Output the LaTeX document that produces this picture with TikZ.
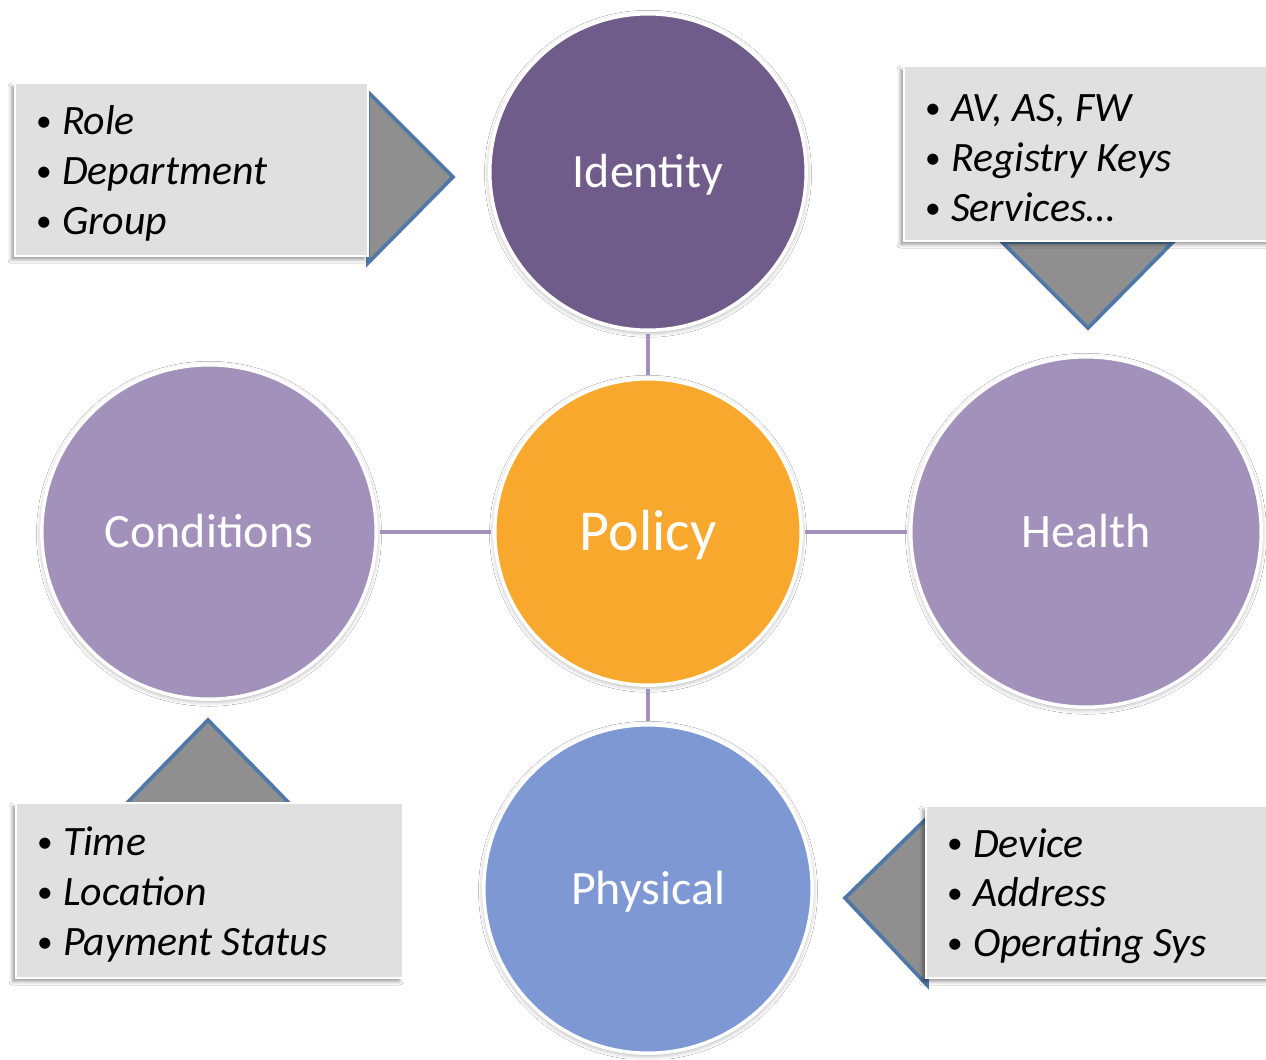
\documentclass[tikz,border=0pt]{standalone}
\usepackage{fontspec}
\setmainfont{Carlito}
\usepackage{graphicx}
\usetikzlibrary{positioning, shapes, shadows.blur}
\usepackage{xcolor}

\definecolor{idpurple}{HTML}{705C8A}
\definecolor{lilac}{HTML}{A291BA}
\definecolor{policyorange}{HTML}{F8A82D}
\definecolor{physblue}{HTML}{7E98D4}
\definecolor{boxgray}{HTML}{E0E0E0}
\definecolor{pointgray}{HTML}{8F8F8F}
\definecolor{pointblue}{HTML}{4F78A6}

\newcommand{\bul}{\makebox[0.52cm][l]{\raisebox{0.08em}{\scalebox{0.75}{\textbullet}}}}
\newcommand{\topstrut}{\rule{0pt}{21pt}}

\tikzset{
    bubble/.style={circle, draw=white, line width=2pt, text=white, inner sep=0pt,
        font=\fontsize{27.3}{32}\selectfont, text height=17.2pt, text depth=0pt,
        blur shadow={shadow xshift=0pt, shadow yshift=-1pt, shadow blur radius=3pt, shadow opacity=40}},
    itembox/.style={rectangle, fill=boxgray, draw=white, line width=1.2pt, anchor=north west,
        align=flush left, inner xsep=0.42cm, inner ysep=0pt,
        font=\fontsize{23.8}{28.4}\selectfont,
        blur shadow={shadow xshift=-2pt, shadow yshift=-2pt, shadow blur radius=2pt, shadow opacity=40}},
    pointer/.style={fill=pointgray, draw=pointblue, line width=2.1pt, line join=miter},
    link/.style={draw=lilac, line width=2.8pt, shorten <=1.2pt, shorten >=1.2pt}
}

\begin{document}
\begin{tikzpicture}[x=0.02cm, y=-0.02cm]
    \useasboundingbox[fill=white] (0,0) rectangle (1266,1059);

    % circles
    \node[bubble, fill=idpurple, minimum size=6.33cm] (identity) at (648,172) {Identity};
    \node[bubble, fill=policyorange, minimum size=6.13cm, font=\fontsize{33}{38}\selectfont, text height=20.8pt] (policy) at (648,532) {Policy};
    \node[bubble, fill=lilac, minimum size=6.69cm] (conditions) at (209,532) {Conditions};
    \node[bubble, fill=lilac, minimum size=7.01cm] (health) at (1086,532) {Health};
    \node[bubble, fill=physblue, minimum size=6.57cm] (physical) at (648,889) {Physical};

    \draw[link] (identity) -- (policy);
    \draw[link] (policy) -- (physical);
    \draw[link] (conditions) -- (policy);
    \draw[link] (policy) -- (health);

    % pointers
    \draw[pointer] (368,92) -- (453,177) -- (368,263) -- cycle;
    \draw[pointer] (1002,242) -- (1088,328) -- (1173,242) -- cycle;
    \draw[pointer] (126,804) -- (208,720) -- (290,804) -- cycle;
    \draw[pointer] (927,818) -- (845,898) -- (927,985) -- cycle;

    % lists
    \node[itembox, minimum width=7.06cm, minimum height=3.46cm, text width=6.22cm] (rolebox) at (14,82)
        {\topstrut\bul\textit{Role}\\ \bul\textit{Department}\\ \bul\textit{Group}};
    \node[itembox, minimum width=7.44cm, minimum height=3.5cm, text width=6.6cm] (healthbox) at (903,65)
        {\topstrut\bul\textit{AV, AS, FW}\\ \bul\textit{Registry Keys}\\ \bul\textit{Services…}};
    \node[itembox, minimum width=7.74cm, minimum height=3.5cm, text width=6.9cm] (condbox) at (15,802)
        {\topstrut\bul\textit{Time}\\ \bul\textit{Location}\\ \bul\textit{Payment Status}};
    \node[itembox, minimum width=7.0cm, minimum height=3.44cm, text width=6.16cm] (physbox) at (925,805)
        {\topstrut\bul\textit{Device}\\ \bul\textit{Address}\\ \bul\textit{Operating Sys}};
\end{tikzpicture}
\end{document}
